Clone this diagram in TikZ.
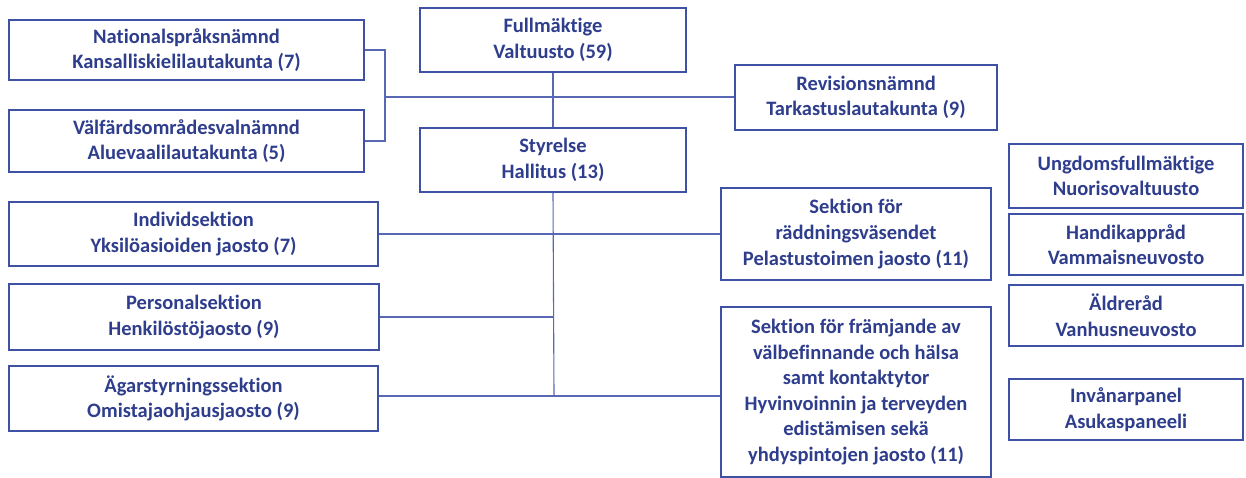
\documentclass[tikz,border=0pt]{standalone}
\usepackage{fontspec}
\setmainfont[Ligatures=NoCommon]{Carlito}
\definecolor{boxline}{HTML}{3F51A5}
\definecolor{txt}{HTML}{2E3D8C}
\definecolor{conn}{HTML}{5868B4}
\begin{document}
\begin{tikzpicture}[x=1pt,y=-1pt,
  orgbox/.style={draw=boxline, line width=1.6pt, rectangle, inner sep=0pt, align=center,
    text=txt, font=\fontsize{20.5}{25.6}\selectfont\bfseries},
  link/.style={draw=conn, line width=1.1pt}]
\useasboundingbox (0,0) rectangle (1246,478);
% nodes
\node[orgbox, minimum width=355, minimum height=60] (nat) at (186.5,50) {Nationalspråksnämnd\\Kansalliskielilautakunta (7)};
\node[orgbox, minimum width=355, minimum height=62] (val) at (186.5,141) {Välfärdsområdesvalnämnd\\Aluevaalilautakunta (5)};
\node[orgbox, minimum width=266, minimum height=64] (full) at (553,40) {Fullmäktige\\Valtuusto (59)};
\node[orgbox, minimum width=266, minimum height=64] (sty) at (553,160) {Styrelse\\Hallitus (13)};
\node[orgbox, minimum width=262, minimum height=65] (rev) at (866,97.5) {Revisionsnämnd\\Tarkastuslautakunta (9)};
\node[orgbox, minimum width=369, minimum height=64] (ind) at (193.5,234) {Individsektion\\Yksilöasioiden jaosto (7)};
\node[orgbox, minimum width=370, minimum height=66] (per) at (194,317) {Personalsektion\\Henkilöstöjaosto (9)};
\node[orgbox, minimum width=369, minimum height=65] (aga) at (193.5,398.5) {Ägarstyrningssektion\\Omistajaohjausjaosto (9)};
\node[orgbox, minimum width=270, minimum height=92] (rad) at (856,234) {Sektion för\\räddningsväsendet\\Pelastustoimen jaosto (11)};
\node[orgbox, minimum width=270, minimum height=170] (fra) at (856,392) {Sektion för främjande av\\välbefinnande och hälsa\\samt kontaktytor\\Hyvinvoinnin ja terveyden\\edistämisen sekä\\yhdyspintojen jaosto (11)};
\node[orgbox, minimum width=234, minimum height=64] (ung) at (1126,176) {Ungdomsfullmäktige\\Nuorisovaltuusto};
\node[orgbox, minimum width=234, minimum height=61] (han) at (1126,244.5) {Handikappråd\\Vammaisneuvosto};
\node[orgbox, minimum width=234, minimum height=61] (ald) at (1126,315.5) {Äldreråd\\Vanhusneuvosto};
\node[orgbox, minimum width=234, minimum height=61] (inv) at (1126,409.5) {Invånarpanel\\Asukaspaneeli};
% junctions
\coordinate (br) at (385,97);
\coordinate (j3) at (554,396);
% connectors
\draw[link] (nat.east) -| (br) |- (val.east);
\draw[link] (br) -- (br -| rev.west);
\draw[link] (full.south) -- (sty.north);
\draw[link] (sty.south) -- (j3);
\draw[link] (ind.east) -- (rad.west);
\draw[link] (per.east) -- (per.east -| j3);
\draw[link] (aga.east |- j3) -- (j3 -| fra.west);
\end{tikzpicture}
\end{document}
